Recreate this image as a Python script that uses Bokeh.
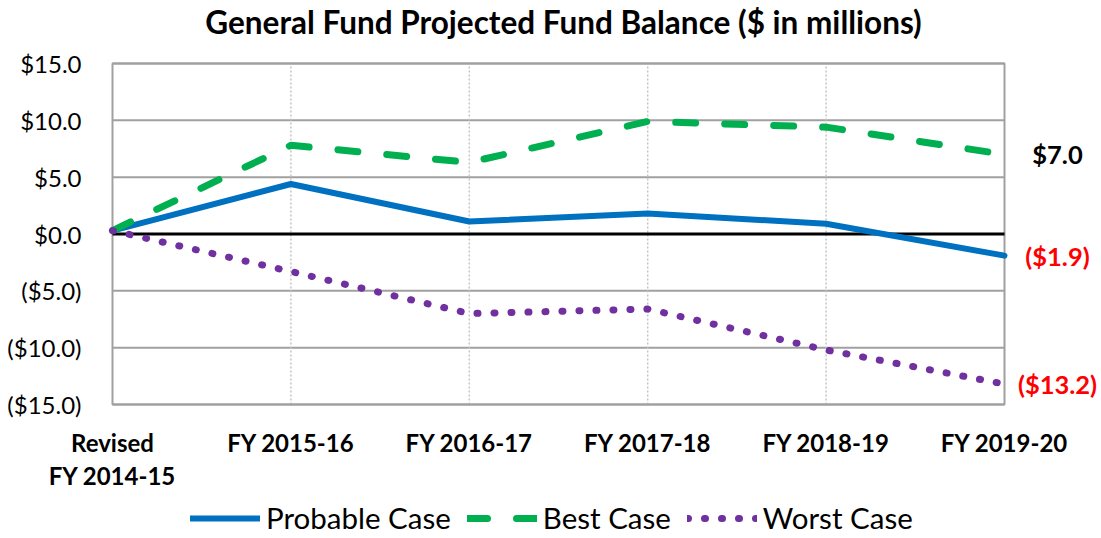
from bokeh.plotting import figure
from bokeh.models import Range1d, Legend, LegendItem, Label
from bokeh.core.properties import value
from bokeh.embed import file_html
from bokeh.resources import INLINE

categories = ["Revised\nFY 2014-15", "FY 2015-16", "FY 2016-17", "FY 2017-18", "FY 2018-19", "FY 2019-20"]
probable = [0.3, 4.4, 1.1, 1.8, 0.9, -1.9]
best = [0.3, 7.8, 6.3, 9.9, 9.4, 7.0]
worst = [0.3, -3.3, -7.0, -6.6, -10.2, -13.2]
y_ticks = [-15, -10, -5, 0, 5, 10, 15]
y_tick_labels = ["($15.0)", "($10.0)", "($5.0)", "$0.0", "$5.0", "$10.0", "$15.0"]
end_labels = {"probable": "($1.9)", "best": "$7.0", "worst": "($13.2)"}
title = "General Fund Projected Fund Balance ($ in millions)"

xs = list(range(len(categories)))
last = xs[-1]
y_lo, y_hi = y_ticks[0], y_ticks[-1]

# layout constants (pixels on the page)
W, H = 1101, 538
LEFT, TOP, PLOT_RIGHT, BOTTOM = 112, 63, 1004, 404
px_x = (PLOT_RIGHT - LEFT) / last            # pixels per category
px_y = (BOTTOM - TOP) / (y_hi - y_lo)        # pixels per unit
x_start = -LEFT / px_x
x_end = (W - LEFT) / px_x
y_top = y_hi + TOP / px_y
y_bot = y_lo - (H - BOTTOM) / px_y

def dx(px):  # page x -> data x
    return (px - LEFT) / px_x

def dy(py):  # page y -> data y
    return y_hi - (py - TOP) / px_y

FONT = value("Lato")

p = figure(width=W, height=H, output_backend="svg", toolbar_location=None,
           x_range=Range1d(x_start, x_end), y_range=Range1d(y_bot, y_top),
           x_axis_location=None, y_axis_location=None,
           min_border_left=0, min_border_right=0, min_border_top=0, min_border_bottom=0)

p.outline_line_color = None
p.background_fill_color = "white"
p.border_fill_color = "white"
p.xgrid.visible = False
p.ygrid.visible = False

# title
p.add_layout(Label(x=dx(563), y=dy(21), text=title, text_align="center", text_baseline="middle",
                   text_font="Lato", text_font_style="bold", text_font_size="31.5px",
                   text_color="black"))

# value-axis labels
p.text(x=[0] * len(y_ticks), y=y_ticks, text=y_tick_labels, x_offset=-31, y_offset=0,
       text_align="right", text_baseline="middle", text_font=FONT,
       text_font_size="24px", text_color="black")

# category labels
p.text(x=xs, y=[y_lo] * len(xs), text=categories, y_offset=23, text_align="center",
       text_baseline="top", text_font=FONT, text_font_style="bold", text_font_size="24px",
       text_line_height=1.15, text_color="black")

# plot-area grid over the category span only
n = len(y_ticks)
p.segment(x0=[0] * n, x1=[last] * n, y0=y_ticks, y1=y_ticks, line_color="#a0a0a0", line_width=2)
inner = xs[1:-1]
p.segment(x0=inner, x1=inner, y0=[y_lo] * len(inner), y1=[y_hi] * len(inner),
          line_color="#c4c4c4", line_width=1.5, line_dash="2 2")
p.quad(left=[0], right=[last], bottom=[y_lo], top=[y_hi], fill_color=None,
       line_color="#a0a0a0", line_width=2)
p.segment(x0=[0], x1=[last], y0=[0], y1=[0], line_color="black", line_width=3)

r_prob = p.line(xs, probable, line_color="#0070C0", line_width=6, line_join="round",
                line_cap="round")
r_best = p.line(xs, best, line_color="#00B050", line_width=7, line_dash="20 29", line_cap="round")
r_worst = p.line(xs, worst, line_color="#7030A0", line_width=7, line_dash="1 16", line_cap="round")

for val, txt, col in [(best[-1], end_labels["best"], "black"),
                      (probable[-1], end_labels["probable"], "red"),
                      (worst[-1], end_labels["worst"], "red")]:
    p.add_layout(Label(x=last, y=val, text=txt, x_offset=53, text_align="center",
                       text_baseline="middle", text_font="Lato", text_font_style="bold",
                       text_font_size="25.5px", text_color=col))

legend = Legend(items=[LegendItem(label="Probable Case", renderers=[r_prob]),
                       LegendItem(label="Best Case", renderers=[r_best]),
                       LegendItem(label="Worst Case", renderers=[r_worst])],
                orientation="horizontal", location=(190, 3),
                glyph_width=70, glyph_height=30, label_standoff=6, spacing=16,
                padding=0, margin=0, border_line_color=None, background_fill_alpha=0,
                label_text_font="Lato", label_text_font_size="29.5px", label_text_color="black")
p.add_layout(legend, "center")

open("out.html", "w").write(file_html(p, INLINE))
